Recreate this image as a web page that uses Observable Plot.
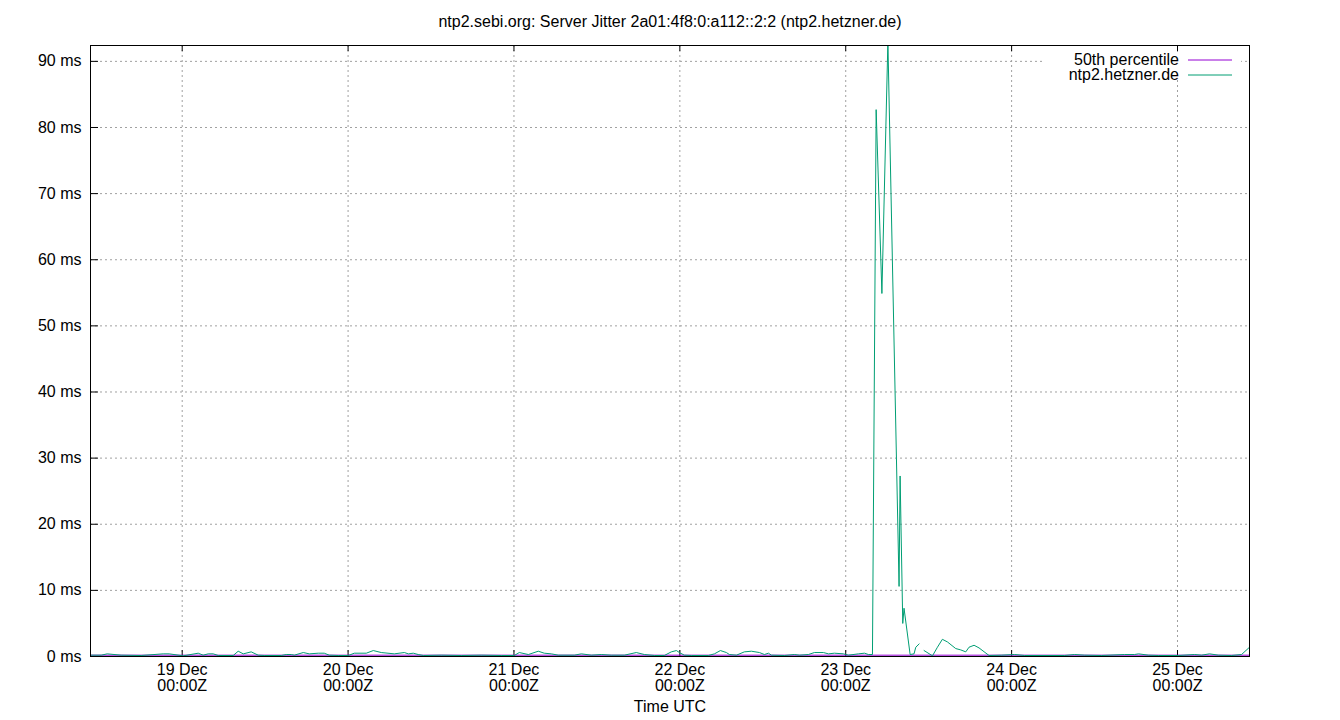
<!DOCTYPE html>
<html>
<head>
<meta charset="utf-8">
<script src="https://cdn.jsdelivr.net/npm/d3@7"></script>
<script src="https://cdn.jsdelivr.net/npm/@observablehq/plot@0.6"></script>
<style>
  html, body { margin: 0; padding: 0; background: #fff; }
  svg { display: block; }
</style>
</head>
<body>
<div id="chart"></div>
<script>
// ---- data ----
const titleText = "ntp2.sebi.org: Server Jitter 2a01:4f8:0:a112::2:2 (ntp2.hetzner.de)";
const xLabel = "Time UTC";
const seriesNames = ["50th percentile", "ntp2.hetzner.de"];
const seriesColors = ["#9400d3", "#009e73"];

const timeDomain = ["2023-12-18T10:44Z", "2023-12-25T10:25Z"];
const xTickDays = ["2023-12-19", "2023-12-20", "2023-12-21", "2023-12-22", "2023-12-23", "2023-12-24", "2023-12-25"];
const yTicks = [0, 10, 20, 30, 40, 50, 60, 70, 80, 90];
const yMax = 92.4;

const medianTimes = ["2023-12-18T10:44Z", "2023-12-25T10:25Z"];
const medianValues = [0.2, 0.2];

const jitterTimes = [
  "2023-12-18T10:44Z","2023-12-18T12:17Z","2023-12-18T13:09Z","2023-12-18T15:10Z","2023-12-18T18:04Z",
  "2023-12-18T21:15Z","2023-12-18T22:07Z","2023-12-19T00:09Z","2023-12-19T02:19Z","2023-12-19T03:02Z",
  "2023-12-19T03:46Z","2023-12-19T04:29Z","2023-12-19T05:13Z","2023-12-19T07:23Z","2023-12-19T08:06Z",
  "2023-12-19T08:50Z","2023-12-19T09:59Z","2023-12-19T11:00Z","2023-12-19T11:52Z","2023-12-19T14:20Z",
  "2023-12-19T15:03Z","2023-12-19T15:47Z","2023-12-19T16:13Z","2023-12-19T17:31Z","2023-12-19T18:23Z",
  "2023-12-19T19:41Z","2023-12-19T20:33Z","2023-12-19T21:17Z","2023-12-19T22:35Z","2023-12-20T00:02Z",
  "2023-12-20T00:54Z","2023-12-20T02:38Z","2023-12-20T03:39Z","2023-12-20T04:48Z","2023-12-20T06:41Z",
  "2023-12-20T08:08Z","2023-12-20T08:43Z","2023-12-20T09:26Z","2023-12-20T10:09Z","2023-12-20T10:53Z",
  "2023-12-20T13:29Z","2023-12-20T16:23Z","2023-12-20T19:16Z","2023-12-20T22:10Z","2023-12-21T00:03Z",
  "2023-12-21T00:46Z","2023-12-21T02:05Z","2023-12-21T03:31Z","2023-12-21T04:23Z","2023-12-21T05:24Z",
  "2023-12-21T06:25Z","2023-12-21T08:44Z","2023-12-21T09:45Z","2023-12-21T11:12Z","2023-12-21T12:38Z",
  "2023-12-21T14:05Z","2023-12-21T15:58Z","2023-12-21T17:42Z","2023-12-21T18:52Z","2023-12-21T20:19Z",
  "2023-12-21T21:45Z","2023-12-21T22:46Z","2023-12-21T23:30Z","2023-12-21T23:56Z","2023-12-22T00:39Z",
  "2023-12-22T01:40Z","2023-12-22T04:08Z","2023-12-22T05:00Z","2023-12-22T05:52Z","2023-12-22T06:44Z",
  "2023-12-22T07:10Z","2023-12-22T08:11Z","2023-12-22T09:20Z","2023-12-22T10:21Z","2023-12-22T11:31Z",
  "2023-12-22T12:14Z","2023-12-22T12:49Z","2023-12-22T13:15Z","2023-12-22T15:08Z","2023-12-22T16:34Z",
  "2023-12-22T17:18Z","2023-12-22T18:36Z","2023-12-22T19:28Z","2023-12-22T20:46Z","2023-12-22T21:30Z",
  "2023-12-22T22:22Z","2023-12-22T23:40Z","2023-12-23T00:23Z","2023-12-23T01:50Z","2023-12-23T02:43Z",
  "2023-12-23T03:17Z","2023-12-23T03:52Z","2023-12-23T04:24Z","2023-12-23T05:14Z","2023-12-23T06:06Z",
  "2023-12-23T07:43Z","2023-12-23T07:52Z","2023-12-23T08:15Z","2023-12-23T08:26Z","2023-12-23T09:19Z",
  "2023-12-23T09:53Z","2023-12-23T10:08Z","2023-12-23T10:37Z","2023-12-23T10:54Z","2023-12-23T11:20Z",
  "2023-12-23T12:33Z","2023-12-23T13:16Z","2023-12-23T13:59Z","2023-12-23T14:43Z","2023-12-23T15:55Z",
  "2023-12-23T16:38Z","2023-12-23T17:22Z","2023-12-23T17:50Z","2023-12-23T18:34Z","2023-12-23T19:17Z",
  "2023-12-23T20:44Z","2023-12-23T22:32Z","2023-12-24T00:25Z","2023-12-24T01:52Z","2023-12-24T07:39Z",
  "2023-12-24T09:06Z","2023-12-24T10:33Z","2023-12-24T13:01Z","2023-12-24T16:20Z","2023-12-24T17:47Z",
  "2023-12-24T18:22Z","2023-12-24T19:49Z","2023-12-24T21:16Z","2023-12-25T00:09Z","2023-12-25T02:28Z",
  "2023-12-25T03:29Z","2023-12-25T04:38Z","2023-12-25T05:56Z","2023-12-25T07:49Z","2023-12-25T09:16Z",
  "2023-12-25T10:25Z"
];
const jitterValues = [
  0.2, 0.2, 0.4, 0.2, 0.15,
  0.4, 0.4, 0.1, 0.5, 0.2,
  0.4, 0.4, 0.15, 0.15, 0.8,
  0.4, 0.7, 0.2, 0.15, 0.15,
  0.3, 0.3, 0.2, 0.6, 0.4,
  0.5, 0.5, 0.2, 0.15, 0.15,
  0.5, 0.5, 0.9, 0.6, 0.4,
  0.6, 0.4, 0.5, 0.3, 0.15,
  0.2, 0.15, 0.2, 0.15, 0.15,
  0.6, 0.3, 0.8, 0.5, 0.4,
  0.2, 0.2, 0.4, 0.2, 0.3,
  0.2, 0.2, 0.6, 0.3, 0.15,
  0.15, 0.7, 0.9, 0.6, 0.2,
  0.15, 0.15, 0.4, 0.9, 0.6,
  0.3, 0.2, 0.7, 0.8, 0.6,
  0.3, 0.5, 0.2, 0.15, 0.3,
  0.2, 0.3, 0.6, 0.6, 0.4,
  0.5, 0.4, 0.2, 0.4, 0.5,
  0.3, 0.3, 82.7, 54.9, 93.0,
  10.6, 27.3, 5.0, 7.3, 0.3,
  0.4, 1.4, 1.9, null, 0.9,
  0.1, 1.4, 2.6, 2.2, 1.2,
  1.0, 0.7, 1.4, 1.7, 1.3,
  0.15, 0.2, 0.3, 0.15, 0.15,
  0.3, 0.2, 0.15, 0.3, 0.3,
  0.4, 0.2, 0.15, 0.15, 0.3,
  0.2, 0.4, 0.2, 0.15, 0.3,
  1.4
];

// ---- tables ----
const median = medianTimes.map((t, i) => ({ t: new Date(t), v: medianValues[i] }));
const jitter = jitterTimes.map((t, i) => ({ t: new Date(t), v: jitterValues[i] }));
const dayTicks = xTickDays.map(d => new Date(d + "T00:00Z"));

const W = 1340, H = 720;
const mL = 90, mR = 91, mT = 45, mB = 64;
const plotW = W - mL - mR, plotH = H - mT - mB;
const font = "'Liberation Sans', Arial, sans-serif";
const fmtDay = d3.utcFormat("%-d %b");
const fmtTime = d3.utcFormat("%H:%MZ");

const chart = Plot.plot({
  width: W,
  height: H,
  marginLeft: mL, marginRight: mR, marginTop: mT, marginBottom: mB,
  style: { fontFamily: font, fontSize: "16px", color: "#000", background: "#fff", overflow: "visible" },
  x: { type: "utc", domain: timeDomain.map(d => new Date(d)) },
  y: { domain: [0, yMax] },
  marks: [
    Plot.gridX(dayTicks, { stroke: "#a0a0a0", strokeOpacity: 1, strokeDasharray: "2,3" }),
    Plot.gridY(yTicks, { stroke: "#a0a0a0", strokeOpacity: 1, strokeDasharray: "2,3" }),
    // inward tick marks: bottom, top, left
    Plot.ruleX(dayTicks, { stroke: "#000", insetTop: plotH - 6 }),
    Plot.ruleX(dayTicks, { stroke: "#000", insetBottom: plotH - 6 }),
    Plot.ruleY(yTicks, { stroke: "#000", insetRight: plotW - 8 }),
    Plot.axisX(dayTicks, {
      tickSize: 0, tickPadding: 7, fontSize: 16, label: null,
      tickFormat: d => fmtDay(d) + "\n" + fmtTime(d)
    }),
    Plot.axisY(yTicks, {
      tickSize: 0, tickPadding: 9, fontSize: 16, label: null,
      tickFormat: d => d + " ms"
    }),
    Plot.line(median, { x: "t", y: "v", stroke: seriesColors[0], strokeWidth: 1, clip: true }),
    Plot.line(jitter, { x: "t", y: "v", stroke: seriesColors[1], strokeWidth: 1, clip: true }),
    Plot.frame({ stroke: "#000", strokeWidth: 1 }),
    Plot.text([titleText], { frameAnchor: "top", dy: -24, fontSize: 16, lineAnchor: "middle" }),
    Plot.text([xLabel], { frameAnchor: "bottom", dy: 50, fontSize: 16, lineAnchor: "middle" })
  ]
});

document.getElementById("chart").appendChild(chart);

// ---- legend (top right, inside the frame) ----
const svg = d3.select(chart);
const leg = svg.append("g").attr("font-family", font).attr("font-size", 16);
leg.append("rect")
  .attr("x", W - mR - 206).attr("y", mT + 7)
  .attr("width", 198).attr("height", 28)
  .attr("fill", "#fff");
seriesNames.forEach((name, i) => {
  const cy = mT + 14 + i * 15;
  leg.append("text")
    .attr("x", W - mR - 70).attr("y", cy)
    .attr("dy", "0.35em")
    .attr("text-anchor", "end")
    .attr("fill", "#000")
    .text(name);
  leg.append("line")
    .attr("x1", W - mR - 61).attr("x2", W - mR - 17)
    .attr("y1", cy + 1).attr("y2", cy + 1)
    .attr("stroke", seriesColors[i]).attr("stroke-width", 1);
});
</script>
</body>
</html>
